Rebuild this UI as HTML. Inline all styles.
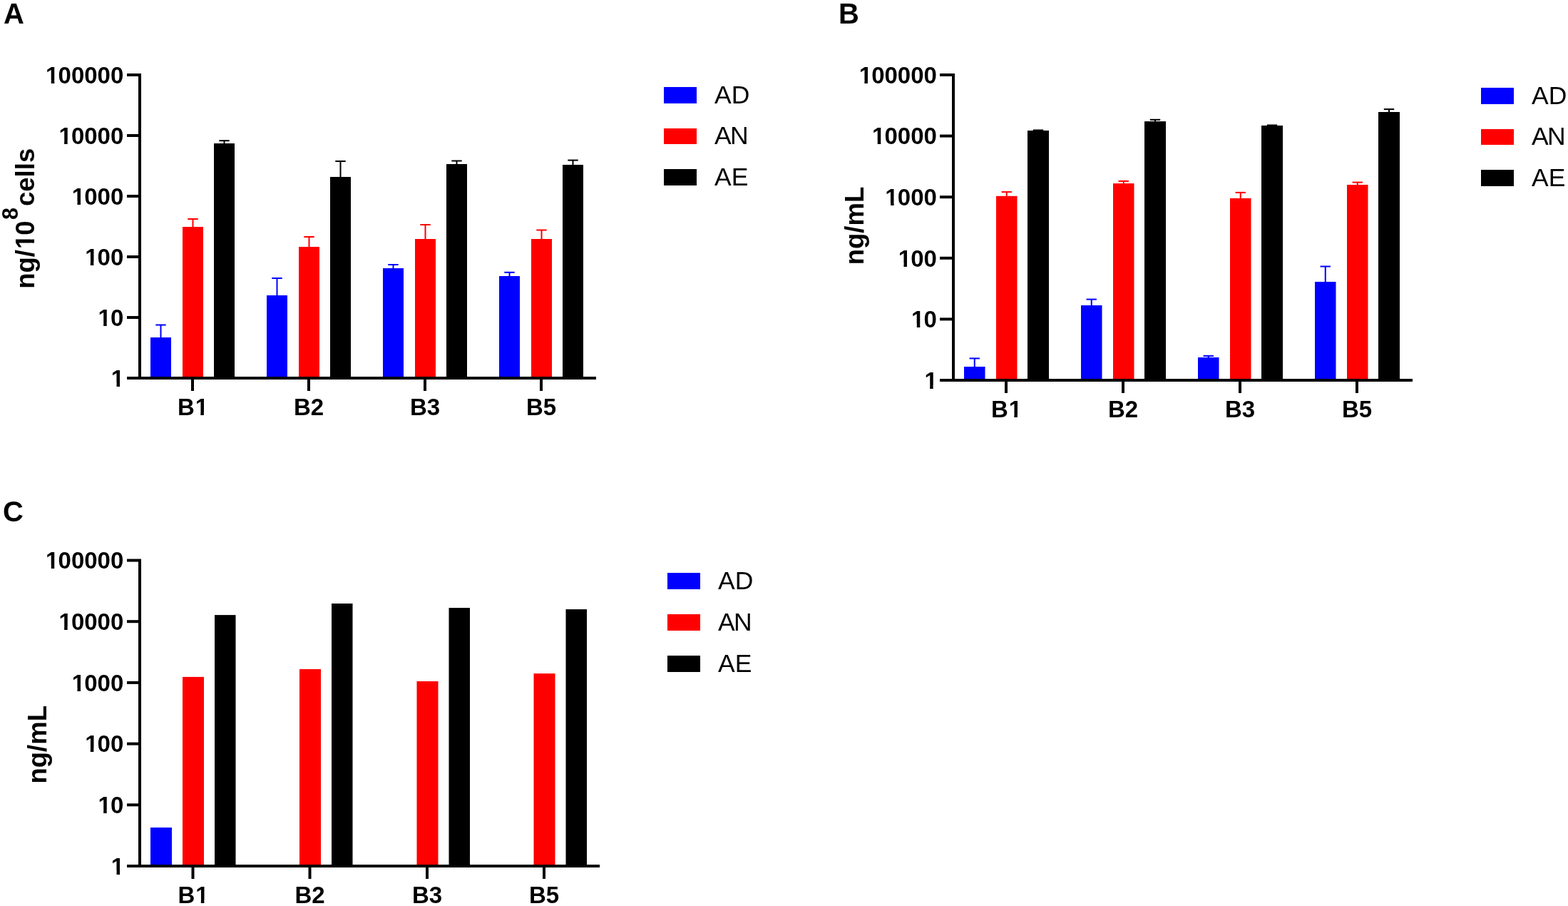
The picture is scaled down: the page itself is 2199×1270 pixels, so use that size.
<!DOCTYPE html>
<html><head><meta charset="utf-8"><title>Figure</title>
<style>html,body{margin:0;padding:0;background:#fff;}svg{display:block;}text{font-family:"Liberation Sans",Arial,sans-serif;fill:#000;}</style>
</head><body>
<svg width="2199" height="1270" viewBox="0 0 2199 1270">
<rect width="2199" height="1270" fill="#fff"/>
<text x="5" y="32.8" font-size="40" text-anchor="start" font-weight="bold">A</text>
<text x="1176" y="33" font-size="40" text-anchor="start" font-weight="bold">B</text>
<text x="4" y="730.8" font-size="40" text-anchor="start" font-weight="bold">C</text>
<rect x="194" y="103" width="4" height="429" fill="#000000"/>
<rect x="178" y="528" width="658" height="4" fill="#000000"/>
<rect x="178" y="103" width="16" height="4" fill="#000000"/>
<text x="64.0681" y="116.7" font-size="33" text-anchor="start" font-weight="bold">1<tspan dx="-0.89">00000</tspan></text>
<rect x="65.1467" y="112.132" width="6.62354" height="5.56768" fill="#fff"/>
<rect x="76.298" y="112.132" width="6.20459" height="5.56768" fill="#fff"/>
<rect x="178" y="188" width="16" height="4" fill="#000000"/>
<text x="82.4211" y="201.7" font-size="33" text-anchor="start" font-weight="bold">1<tspan dx="-0.89">0000</tspan></text>
<rect x="83.4997" y="197.132" width="6.62354" height="5.56768" fill="#fff"/>
<rect x="94.6511" y="197.132" width="6.20459" height="5.56768" fill="#fff"/>
<rect x="178" y="273" width="16" height="4" fill="#000000"/>
<text x="100.774" y="286.7" font-size="33" text-anchor="start" font-weight="bold">1<tspan dx="-0.89">000</tspan></text>
<rect x="101.853" y="282.132" width="6.62354" height="5.56768" fill="#fff"/>
<rect x="113.004" y="282.132" width="6.20459" height="5.56768" fill="#fff"/>
<rect x="178" y="358" width="16" height="4" fill="#000000"/>
<text x="119.127" y="371.7" font-size="33" text-anchor="start" font-weight="bold">1<tspan dx="-0.89">00</tspan></text>
<rect x="120.206" y="367.132" width="6.62354" height="5.56768" fill="#fff"/>
<rect x="131.357" y="367.132" width="6.20459" height="5.56768" fill="#fff"/>
<rect x="178" y="443" width="16" height="4" fill="#000000"/>
<text x="137.48" y="456.7" font-size="33" text-anchor="start" font-weight="bold">1<tspan dx="-0.89">0</tspan></text>
<rect x="138.559" y="452.132" width="6.62354" height="5.56768" fill="#fff"/>
<rect x="149.71" y="452.132" width="6.20459" height="5.56768" fill="#fff"/>
<rect x="178" y="528" width="16" height="4" fill="#000000"/>
<text x="155.833" y="541.7" font-size="33" text-anchor="start" font-weight="bold">1</text>
<rect x="156.912" y="537.132" width="6.62354" height="5.56768" fill="#fff"/>
<rect x="168.063" y="537.132" width="6.20459" height="5.56768" fill="#fff"/>
<rect x="268" y="532" width="4" height="16" fill="#000000"/>
<text x="248.908" y="582.3" font-size="33" text-anchor="start" font-weight="bold">B<tspan dx="0.89">1</tspan></text>
<rect x="274.704" y="577.732" width="6.62354" height="5.56768" fill="#fff"/>
<rect x="285.855" y="577.732" width="6.20459" height="5.56768" fill="#fff"/>
<rect x="431" y="532" width="4" height="16" fill="#000000"/>
<text x="433" y="582.3" font-size="33" text-anchor="middle" font-weight="bold">B2</text>
<rect x="594" y="532" width="4" height="16" fill="#000000"/>
<text x="596" y="582.3" font-size="33" text-anchor="middle" font-weight="bold">B3</text>
<rect x="757" y="532" width="4" height="16" fill="#000000"/>
<text x="759" y="582.3" font-size="33" text-anchor="middle" font-weight="bold">B5</text>
<rect x="211" y="473" width="29" height="55" fill="#0000ff"/>
<rect x="224.5" y="455.5" width="2" height="17.5" fill="#0000ff"/>
<rect x="218.3" y="454.5" width="14.4" height="2" fill="#0000ff"/>
<rect x="256" y="318" width="29" height="210" fill="#ff0000"/>
<rect x="269.5" y="307" width="2" height="11" fill="#ff0000"/>
<rect x="263.3" y="306" width="14.4" height="2" fill="#ff0000"/>
<rect x="300" y="201" width="29" height="327" fill="#000000"/>
<rect x="313.5" y="197.2" width="2" height="3.8" fill="#000000"/>
<rect x="307.3" y="196.2" width="14.4" height="2" fill="#000000"/>
<rect x="374" y="414" width="29" height="114" fill="#0000ff"/>
<rect x="387.5" y="390" width="2" height="24" fill="#0000ff"/>
<rect x="381.3" y="389" width="14.4" height="2" fill="#0000ff"/>
<rect x="419" y="346" width="29" height="182" fill="#ff0000"/>
<rect x="432.5" y="332" width="2" height="14" fill="#ff0000"/>
<rect x="426.3" y="331" width="14.4" height="2" fill="#ff0000"/>
<rect x="463" y="248" width="29" height="280" fill="#000000"/>
<rect x="476.5" y="226" width="2" height="22" fill="#000000"/>
<rect x="470.3" y="225" width="14.4" height="2" fill="#000000"/>
<rect x="537" y="376" width="29" height="152" fill="#0000ff"/>
<rect x="550.5" y="371" width="2" height="5" fill="#0000ff"/>
<rect x="544.3" y="370" width="14.4" height="2" fill="#0000ff"/>
<rect x="582" y="335" width="29" height="193" fill="#ff0000"/>
<rect x="595.5" y="315" width="2" height="20" fill="#ff0000"/>
<rect x="589.3" y="314" width="14.4" height="2" fill="#ff0000"/>
<rect x="626" y="230" width="29" height="298" fill="#000000"/>
<rect x="639.5" y="225.5" width="2" height="4.5" fill="#000000"/>
<rect x="633.3" y="224.5" width="14.4" height="2" fill="#000000"/>
<rect x="700" y="387" width="29" height="141" fill="#0000ff"/>
<rect x="713.5" y="381.8" width="2" height="5.2" fill="#0000ff"/>
<rect x="707.3" y="380.8" width="14.4" height="2" fill="#0000ff"/>
<rect x="745" y="335" width="29" height="193" fill="#ff0000"/>
<rect x="758.5" y="322.5" width="2" height="12.5" fill="#ff0000"/>
<rect x="752.3" y="321.5" width="14.4" height="2" fill="#ff0000"/>
<rect x="789" y="231" width="29" height="297" fill="#000000"/>
<rect x="802.5" y="224.6" width="2" height="6.4" fill="#000000"/>
<rect x="796.3" y="223.6" width="14.4" height="2" fill="#000000"/>
<rect x="931" y="122" width="46" height="23" fill="#0000ff"/>
<text x="1002" y="145" font-size="35.5" text-anchor="start" font-weight="normal">AD</text>
<rect x="931" y="180" width="46" height="22" fill="#ff0000"/>
<text x="1002" y="202" font-size="35.5" text-anchor="start" font-weight="normal">A<tspan dx="-1.8">N</tspan></text>
<rect x="931" y="237" width="46" height="23" fill="#000000"/>
<text x="1002" y="260" font-size="35.5" text-anchor="start" font-weight="normal">AE</text>
<g transform="translate(48,404.8) rotate(-90)"><text x="0" y="0" font-size="36.5" font-weight="bold">ng/<tspan dx="0.98">1</tspan><tspan dx="-0.98">0</tspan></text>
<rect x="57.0115" y="-4.92485" width="7.21997" height="5.92485" fill="#fff"/>
<rect x="69.2395" y="-4.92485" width="6.75659" height="5.92485" fill="#fff"/>
</g>
<g transform="translate(25.1,308) rotate(-90)"><text x="0" y="0" font-size="30.5" font-weight="bold">8</text></g>
<g transform="translate(48,289) rotate(-90)"><text x="0" y="0" font-size="36.5" font-weight="bold">cells</text></g>
<rect x="1335" y="103" width="4" height="432" fill="#000000"/>
<rect x="1318" y="531" width="663" height="4" fill="#000000"/>
<rect x="1318" y="103" width="17" height="4" fill="#000000"/>
<text x="1204.67" y="116.7" font-size="33" text-anchor="start" font-weight="bold">1<tspan dx="-0.89">00000</tspan></text>
<rect x="1205.75" y="112.132" width="6.62354" height="5.56768" fill="#fff"/>
<rect x="1216.9" y="112.132" width="6.20459" height="5.56768" fill="#fff"/>
<rect x="1318" y="188.6" width="17" height="4" fill="#000000"/>
<text x="1223.02" y="202.3" font-size="33" text-anchor="start" font-weight="bold">1<tspan dx="-0.89">0000</tspan></text>
<rect x="1224.1" y="197.732" width="6.62354" height="5.56768" fill="#fff"/>
<rect x="1235.25" y="197.732" width="6.20459" height="5.56768" fill="#fff"/>
<rect x="1318" y="274.2" width="17" height="4" fill="#000000"/>
<text x="1241.37" y="287.9" font-size="33" text-anchor="start" font-weight="bold">1<tspan dx="-0.89">000</tspan></text>
<rect x="1242.45" y="283.332" width="6.62354" height="5.56768" fill="#fff"/>
<rect x="1253.6" y="283.332" width="6.20459" height="5.56768" fill="#fff"/>
<rect x="1318" y="359.8" width="17" height="4" fill="#000000"/>
<text x="1259.73" y="373.5" font-size="33" text-anchor="start" font-weight="bold">1<tspan dx="-0.89">00</tspan></text>
<rect x="1260.81" y="368.932" width="6.62354" height="5.56768" fill="#fff"/>
<rect x="1271.96" y="368.932" width="6.20459" height="5.56768" fill="#fff"/>
<rect x="1318" y="445.4" width="17" height="4" fill="#000000"/>
<text x="1278.08" y="459.1" font-size="33" text-anchor="start" font-weight="bold">1<tspan dx="-0.89">0</tspan></text>
<rect x="1279.16" y="454.532" width="6.62354" height="5.56768" fill="#fff"/>
<rect x="1290.31" y="454.532" width="6.20459" height="5.56768" fill="#fff"/>
<rect x="1318" y="531" width="17" height="4" fill="#000000"/>
<text x="1296.43" y="544.7" font-size="33" text-anchor="start" font-weight="bold">1</text>
<rect x="1297.51" y="540.132" width="6.62354" height="5.56768" fill="#fff"/>
<rect x="1308.66" y="540.132" width="6.20459" height="5.56768" fill="#fff"/>
<rect x="1409" y="535" width="4" height="16" fill="#000000"/>
<text x="1389.91" y="585.2" font-size="33" text-anchor="start" font-weight="bold">B<tspan dx="0.89">1</tspan></text>
<rect x="1415.7" y="580.632" width="6.62354" height="5.56768" fill="#fff"/>
<rect x="1426.86" y="580.632" width="6.20459" height="5.56768" fill="#fff"/>
<rect x="1573" y="535" width="4" height="16" fill="#000000"/>
<text x="1575" y="585.2" font-size="33" text-anchor="middle" font-weight="bold">B2</text>
<rect x="1737" y="535" width="4" height="16" fill="#000000"/>
<text x="1739" y="585.2" font-size="33" text-anchor="middle" font-weight="bold">B3</text>
<rect x="1901" y="535" width="4" height="16" fill="#000000"/>
<text x="1903" y="585.2" font-size="33" text-anchor="middle" font-weight="bold">B5</text>
<rect x="1352" y="514" width="29.5" height="17" fill="#0000ff"/>
<rect x="1365.75" y="502.4" width="2" height="11.6" fill="#0000ff"/>
<rect x="1359.55" y="501.4" width="14.4" height="2" fill="#0000ff"/>
<rect x="1397" y="274.8" width="29.5" height="256.2" fill="#ff0000"/>
<rect x="1410.75" y="269.1" width="2" height="5.7" fill="#ff0000"/>
<rect x="1404.55" y="268.1" width="14.4" height="2" fill="#ff0000"/>
<rect x="1441" y="183" width="30" height="348" fill="#000000"/>
<rect x="1455" y="182.5" width="2" height="0.5" fill="#000000"/>
<rect x="1448.8" y="181.5" width="14.4" height="2" fill="#000000"/>
<rect x="1516" y="428" width="29.5" height="103" fill="#0000ff"/>
<rect x="1529.75" y="419.6" width="2" height="8.4" fill="#0000ff"/>
<rect x="1523.55" y="418.6" width="14.4" height="2" fill="#0000ff"/>
<rect x="1561" y="257.1" width="29.5" height="273.9" fill="#ff0000"/>
<rect x="1574.75" y="253.9" width="2" height="3.2" fill="#ff0000"/>
<rect x="1568.55" y="252.9" width="14.4" height="2" fill="#ff0000"/>
<rect x="1605" y="170.1" width="30" height="360.9" fill="#000000"/>
<rect x="1619" y="167.8" width="2" height="2.3" fill="#000000"/>
<rect x="1612.8" y="166.8" width="14.4" height="2" fill="#000000"/>
<rect x="1680" y="501" width="29.5" height="30" fill="#0000ff"/>
<rect x="1693.75" y="498.9" width="2" height="2.1" fill="#0000ff"/>
<rect x="1687.55" y="497.9" width="14.4" height="2" fill="#0000ff"/>
<rect x="1725" y="277.9" width="29.5" height="253.1" fill="#ff0000"/>
<rect x="1738.75" y="269.9" width="2" height="8" fill="#ff0000"/>
<rect x="1732.55" y="268.9" width="14.4" height="2" fill="#ff0000"/>
<rect x="1769" y="176" width="30" height="355" fill="#000000"/>
<rect x="1783" y="175.5" width="2" height="0.5" fill="#000000"/>
<rect x="1776.8" y="174.5" width="14.4" height="2" fill="#000000"/>
<rect x="1844" y="395" width="29.5" height="136" fill="#0000ff"/>
<rect x="1857.75" y="373.5" width="2" height="21.5" fill="#0000ff"/>
<rect x="1851.55" y="372.5" width="14.4" height="2" fill="#0000ff"/>
<rect x="1889" y="259" width="29.5" height="272" fill="#ff0000"/>
<rect x="1902.75" y="255.6" width="2" height="3.4" fill="#ff0000"/>
<rect x="1896.55" y="254.6" width="14.4" height="2" fill="#ff0000"/>
<rect x="1933" y="157" width="30" height="374" fill="#000000"/>
<rect x="1947" y="153.1" width="2" height="3.9" fill="#000000"/>
<rect x="1940.8" y="152.1" width="14.4" height="2" fill="#000000"/>
<rect x="2077" y="123" width="46" height="23" fill="#0000ff"/>
<text x="2148" y="146" font-size="35.5" text-anchor="start" font-weight="normal">AD</text>
<rect x="2077" y="181" width="46" height="22" fill="#ff0000"/>
<text x="2148" y="203" font-size="35.5" text-anchor="start" font-weight="normal">A<tspan dx="-1.8">N</tspan></text>
<rect x="2077" y="238" width="46" height="23" fill="#000000"/>
<text x="2148" y="261" font-size="35.5" text-anchor="start" font-weight="normal">AE</text>
<g transform="translate(1210.7,371.3) rotate(-90)"><text x="0" y="0" font-size="36.5" font-weight="bold">ng/mL</text></g>
<rect x="194" y="783.5" width="4" height="432.5" fill="#000000"/>
<rect x="178" y="1212" width="663" height="4" fill="#000000"/>
<rect x="178" y="783.5" width="16" height="4" fill="#000000"/>
<text x="64.0681" y="797.2" font-size="33" text-anchor="start" font-weight="bold">1<tspan dx="-0.89">00000</tspan></text>
<rect x="65.1467" y="792.632" width="6.62354" height="5.56768" fill="#fff"/>
<rect x="76.298" y="792.632" width="6.20459" height="5.56768" fill="#fff"/>
<rect x="178" y="869.2" width="16" height="4" fill="#000000"/>
<text x="82.4211" y="882.9" font-size="33" text-anchor="start" font-weight="bold">1<tspan dx="-0.89">0000</tspan></text>
<rect x="83.4997" y="878.332" width="6.62354" height="5.56768" fill="#fff"/>
<rect x="94.6511" y="878.332" width="6.20459" height="5.56768" fill="#fff"/>
<rect x="178" y="954.9" width="16" height="4" fill="#000000"/>
<text x="100.774" y="968.6" font-size="33" text-anchor="start" font-weight="bold">1<tspan dx="-0.89">000</tspan></text>
<rect x="101.853" y="964.032" width="6.62354" height="5.56768" fill="#fff"/>
<rect x="113.004" y="964.032" width="6.20459" height="5.56768" fill="#fff"/>
<rect x="178" y="1040.6" width="16" height="4" fill="#000000"/>
<text x="119.127" y="1054.3" font-size="33" text-anchor="start" font-weight="bold">1<tspan dx="-0.89">00</tspan></text>
<rect x="120.206" y="1049.73" width="6.62354" height="5.56768" fill="#fff"/>
<rect x="131.357" y="1049.73" width="6.20459" height="5.56768" fill="#fff"/>
<rect x="178" y="1126.3" width="16" height="4" fill="#000000"/>
<text x="137.48" y="1140" font-size="33" text-anchor="start" font-weight="bold">1<tspan dx="-0.89">0</tspan></text>
<rect x="138.559" y="1135.43" width="6.62354" height="5.56768" fill="#fff"/>
<rect x="149.71" y="1135.43" width="6.20459" height="5.56768" fill="#fff"/>
<rect x="178" y="1212" width="16" height="4" fill="#000000"/>
<text x="155.833" y="1225.7" font-size="33" text-anchor="start" font-weight="bold">1</text>
<rect x="156.912" y="1221.13" width="6.62354" height="5.56768" fill="#fff"/>
<rect x="168.063" y="1221.13" width="6.20459" height="5.56768" fill="#fff"/>
<rect x="268.5" y="1216" width="4" height="16" fill="#000000"/>
<text x="249.408" y="1266" font-size="33" text-anchor="start" font-weight="bold">B<tspan dx="0.89">1</tspan></text>
<rect x="275.204" y="1261.43" width="6.62354" height="5.56768" fill="#fff"/>
<rect x="286.355" y="1261.43" width="6.20459" height="5.56768" fill="#fff"/>
<rect x="432.5" y="1216" width="4" height="16" fill="#000000"/>
<text x="434.5" y="1266" font-size="33" text-anchor="middle" font-weight="bold">B2</text>
<rect x="597" y="1216" width="4" height="16" fill="#000000"/>
<text x="599" y="1266" font-size="33" text-anchor="middle" font-weight="bold">B3</text>
<rect x="761" y="1216" width="4" height="16" fill="#000000"/>
<text x="763" y="1266" font-size="33" text-anchor="middle" font-weight="bold">B5</text>
<rect x="211" y="1160" width="30" height="52" fill="#0000ff"/>
<rect x="256" y="948.9" width="30" height="263.1" fill="#ff0000"/>
<rect x="301" y="862.1" width="29.5" height="349.9" fill="#000000"/>
<rect x="420" y="938" width="30" height="274" fill="#ff0000"/>
<rect x="465" y="846" width="29.5" height="366" fill="#000000"/>
<rect x="584.5" y="955" width="30" height="257" fill="#ff0000"/>
<rect x="629.5" y="852.1" width="29.5" height="359.9" fill="#000000"/>
<rect x="748.5" y="944.1" width="30" height="267.9" fill="#ff0000"/>
<rect x="793.5" y="854.1" width="29.5" height="357.9" fill="#000000"/>
<rect x="936" y="803" width="46" height="23" fill="#0000ff"/>
<text x="1007" y="826" font-size="35.5" text-anchor="start" font-weight="normal">AD</text>
<rect x="936" y="861" width="46" height="23" fill="#ff0000"/>
<text x="1007" y="884" font-size="35.5" text-anchor="start" font-weight="normal">A<tspan dx="-1.8">N</tspan></text>
<rect x="936" y="919" width="46" height="23" fill="#000000"/>
<text x="1007" y="942" font-size="35.5" text-anchor="start" font-weight="normal">AE</text>
<g transform="translate(65.1,1098.5) rotate(-90)"><text x="0" y="0" font-size="36.5" font-weight="bold">ng/mL</text></g>
</svg>
</body></html>
